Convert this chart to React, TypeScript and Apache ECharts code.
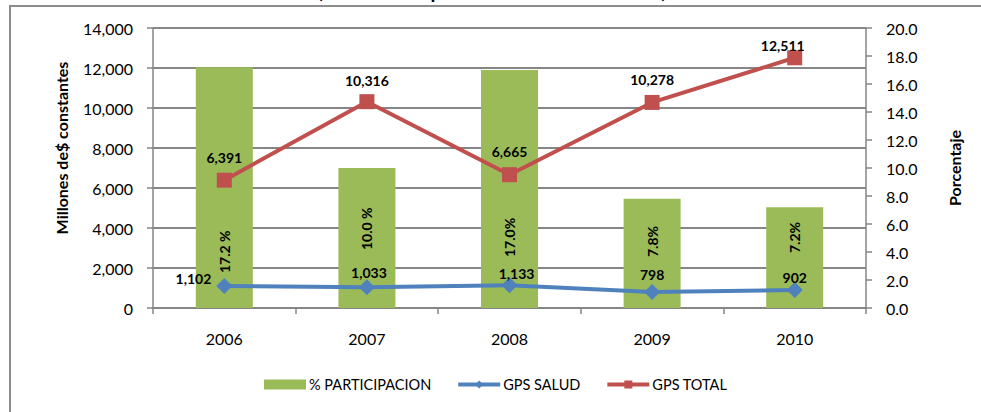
import React, { useEffect, useRef } from "react";
import * as echarts from "echarts";

const years = ["2006", "2007", "2008", "2009", "2010"];
const participacion = [17.2, 10.0, 17.0, 7.8, 7.2];
const participacionLabels = ["17.2 %", "10.0 %", "17.0%", "7.8%", "7.2%"];
const gpsSalud = [1102, 1033, 1133, 798, 902];
const gpsTotal = [6391, 10316, 6665, 10278, 12511];
const leftTicks = { min: 0, max: 14000, interval: 2000 };
const rightTicks = { min: 0, max: 20, interval: 2 };

const FONT = "Lato, 'Open Sans', sans-serif";

export default function App() {
  const ref = useRef<HTMLDivElement>(null);
  useEffect(() => {
    if (!ref.current) return;
    const chart = echarts.init(ref.current, undefined, { renderer: "svg" });

    // label placement tweaks (style only)
    const barLabelDist = [35, 58, 51, 51, 55];
    const totalLabelPos = [
      { position: "top", distance: 8, offset: [0, 0] },
      { position: "top", distance: 7, offset: [0, 0] },
      { position: "top", distance: 9, offset: [0, 0] },
      { position: "top", distance: 8, offset: [0, 0] },
      { position: "top", distance: -2, offset: [-12, 0] },
    ];
    const saludLabelPos = [
      { position: "left", distance: 5, offset: [0, -7] },
      { position: "top", distance: 0, offset: [2, 0] },
      { position: "top", distance: -3, offset: [7, 0] },
      { position: "top", distance: 3, offset: [0, 0] },
      { position: "top", distance: -3, offset: [0, 0] },
    ];

    const gridColor = "#868686";
    const labelBase = {
      show: true,
      fontFamily: FONT,
      fontWeight: "bold" as const,
      fontSize: 14,
      color: "#000",
    };

    chart.setOption({
      animation: false,
      backgroundColor: "#fff",
      textStyle: { fontFamily: FONT },
      grid: { left: 153, top: 28, width: 713, height: 280, containLabel: false },
      graphic: [
        {
          type: "rect",
          shape: { x: 10, y: 6, width: 1000, height: 500 },
          style: { fill: "none", stroke: "#8c8c8c", lineWidth: 2 },
          silent: true,
        },
        {
          type: "text",
          x: 492,
          y: 0,
          style: {
            text: "(Millones de pesos constantes de 2010)",
            align: "center",
            verticalAlign: "bottom",
            font: "bold 20px Lato, sans-serif",
            fill: "#000",
          },
        },
      ],
      legend: {
        left: 264,
        top: 377,
        padding: 0,
        itemWidth: 42,
        itemHeight: 10,
        itemGap: 25,
        lineStyle: { width: 4 },
        textStyle: { fontFamily: FONT, fontSize: 14.5, color: "#000", padding: [0, 0, 0, -2] },
        data: [
          { name: "% PARTICIPACION", icon: "rect" },
          { name: "GPS SALUD" },
          { name: "GPS TOTAL" },
        ],
      },
      xAxis: {
        type: "category",
        data: years,
        boundaryGap: true,
        axisLine: { show: true, lineStyle: { color: gridColor, width: 1.5 } },
        axisTick: { show: true, length: 6, lineStyle: { color: gridColor, width: 1.5 } },
        axisLabel: { fontFamily: FONT, fontSize: 16, color: "#000", margin: 22 },
      },
      yAxis: [
        {
          type: "value",
          min: leftTicks.min,
          max: leftTicks.max,
          interval: leftTicks.interval,
          name: "Millones de$ constantes",
          nameLocation: "middle",
          nameRotate: 90,
          nameGap: 84,
          nameTextStyle: {
            fontFamily: FONT,
            fontWeight: "bold",
            fontSize: 16,
            color: "#000",
            padding: [0, 0, 0, 40],
          },
          axisLine: { show: true, lineStyle: { color: gridColor, width: 1.5 } },
          axisTick: { show: true, length: 6, lineStyle: { color: gridColor, width: 1.5 } },
          splitLine: { show: true, lineStyle: { color: gridColor, width: 1.8 } },
          axisLabel: {
            fontFamily: FONT,
            fontSize: 16,
            color: "#000",
            margin: 20,
            formatter: (v: number) => v.toLocaleString("en-US"),
          },
        },
        {
          type: "value",
          position: "right",
          min: rightTicks.min,
          max: rightTicks.max,
          interval: rightTicks.interval,
          name: "Porcentaje",
          nameLocation: "middle",
          nameRotate: 90,
          nameGap: 80,
          nameTextStyle: { fontFamily: FONT, fontWeight: "bold", fontSize: 16, color: "#000" },
          axisLine: { show: true, lineStyle: { color: gridColor, width: 1.5 } },
          axisTick: { show: true, length: 6, lineStyle: { color: gridColor, width: 1.5 } },
          splitLine: { show: false },
          axisLabel: {
            fontFamily: FONT,
            fontSize: 16,
            color: "#000",
            margin: 20,
            formatter: (v: number) => v.toFixed(1),
          },
        },
      ],
      series: [
        {
          name: "% PARTICIPACION",
          type: "bar",
          yAxisIndex: 1,
          barWidth: 57,
          itemStyle: { color: "#9BBB59" },
          data: participacion.map((v, i) => ({
            value: v,
            label: {
              ...labelBase,
              position: "insideBottom",
              rotate: 90,
              align: "left",
              verticalAlign: "middle",
              distance: barLabelDist[i],
              formatter: participacionLabels[i],
            },
          })),
          z: 1,
        },
        {
          name: "GPS SALUD",
          type: "line",
          yAxisIndex: 0,
          symbol: "diamond",
          symbolSize: 16,
          itemStyle: { color: "#4F81BD" },
          lineStyle: { color: "#4F81BD", width: 4 },
          data: gpsSalud.map((v, i) => ({
            value: v,
            label: {
              ...labelBase,
              ...saludLabelPos[i],
              formatter: (p: any) => Number(p.value).toLocaleString("en-US"),
            },
          })),
          z: 3,
        },
        {
          name: "GPS TOTAL",
          type: "line",
          yAxisIndex: 0,
          symbol: "rect",
          symbolSize: 15,
          itemStyle: { color: "#C0504D" },
          lineStyle: { color: "#C0504D", width: 4 },
          data: gpsTotal.map((v, i) => ({
            value: v,
            label: {
              ...labelBase,
              ...totalLabelPos[i],
              formatter: (p: any) => Number(p.value).toLocaleString("en-US"),
            },
          })),
          z: 3,
        },
      ],
    });
    return () => chart.dispose();
  }, []);

  return (
    <div
      ref={ref}
      style={{ position: "fixed", left: 0, top: 0, width: 981, height: 412, background: "#fff" }}
    />
  );
}
